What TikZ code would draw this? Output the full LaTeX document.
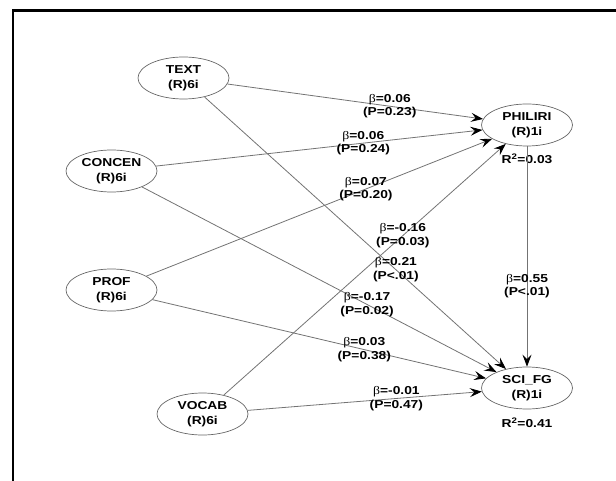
\documentclass[tikz,border=0pt]{standalone}
\usepackage{fontspec}
\setmainfont[FakeStretch=1.2]{Liberation Sans}
\newfontfamily\betafont[FakeStretch=1.2]{Liberation Serif}
\usetikzlibrary{arrows.meta,shapes.geometric,positioning}

\newcommand{\bt}{{\normalfont\betafont β}}

\begin{document}
\begin{tikzpicture}[x=1pt, y=-1pt,
    >={Stealth[length=12pt,width=9pt,inset=4.5pt,color=black]},
    latent/.style={ellipse, draw=gray!80!black, line width=0.7pt, minimum width=91pt, minimum height=42pt, inner sep=0pt, align=center, font=\bfseries\fontsize{11.5}{14.5}\selectfont},
    rsq/.style={inner sep=0pt, font=\bfseries\fontsize{11.5}{13}\selectfont},
    coef/.style={pos=0.635, align=center, inner sep=0pt, font=\bfseries\fontsize{11.5}{13.5}\selectfont},
    link/.style={->, draw=gray!90!black, line width=0.8pt}]
    \useasboundingbox (0,0) rectangle (616,481);
    % frame
    \draw [line width=2.3pt] (13,481) -- (13,10.5) -- (616,10.5);

    % Nodes {exogenous on the left, endogenous on the right}
    \node [latent] (text)    at (183.5,78)  {TEXT\\(R)6i};
    \node [latent] (concen)  at (111.5,171) {CONCEN\\(R)6i};
    \node [latent] (prof)    at (111.5,290) {PROF\\(R)6i};
    \node [latent] (vocab)   at (202.5,414) {VOCAB\\(R)6i};
    \node [latent] (philiri) at (527,125)   {PHILIRI\\(R)1i};
    \node [latent] (scifg)   at (527,388)   {SCI\_FG\\(R)1i};
    \node [rsq] (r2philiri) [below=7pt of philiri] {R\textsuperscript{2}=0.03};
    \node [rsq] (r2scifg)   [below=8pt of scifg]   {R\textsuperscript{2}=0.41};

    % Paths
    \path [link] (text)    edge node [coef] {\bt=0.06\\(P=0.23)}  (philiri);
    \path [link] (concen)  edge node [coef] {\bt=0.06\\(P=0.24)}  (philiri);
    \path [link] (prof)    edge node [coef] {\bt=0.07\\(P=0.20)}  (philiri);
    \path [link] (vocab)   edge node [coef] {\bt=-0.16\\(P=0.03)} (philiri);
    \path [link] (text)    edge node [coef] {\bt=0.21\\(P<.01)}   (scifg);
    \path [link] (concen)  edge node [coef] {\bt=-0.17\\(P=0.02)} (scifg);
    \path [link] (prof)    edge node [coef] {\bt=0.03\\(P=0.38)}  (scifg);
    \path [link] (vocab)   edge node [coef] {\bt=-0.01\\(P=0.47)} (scifg);
    \path [link] (philiri) edge node [coef] {\bt=0.55\\(P<.01)}   (scifg);

\end{tikzpicture}
\end{document}
